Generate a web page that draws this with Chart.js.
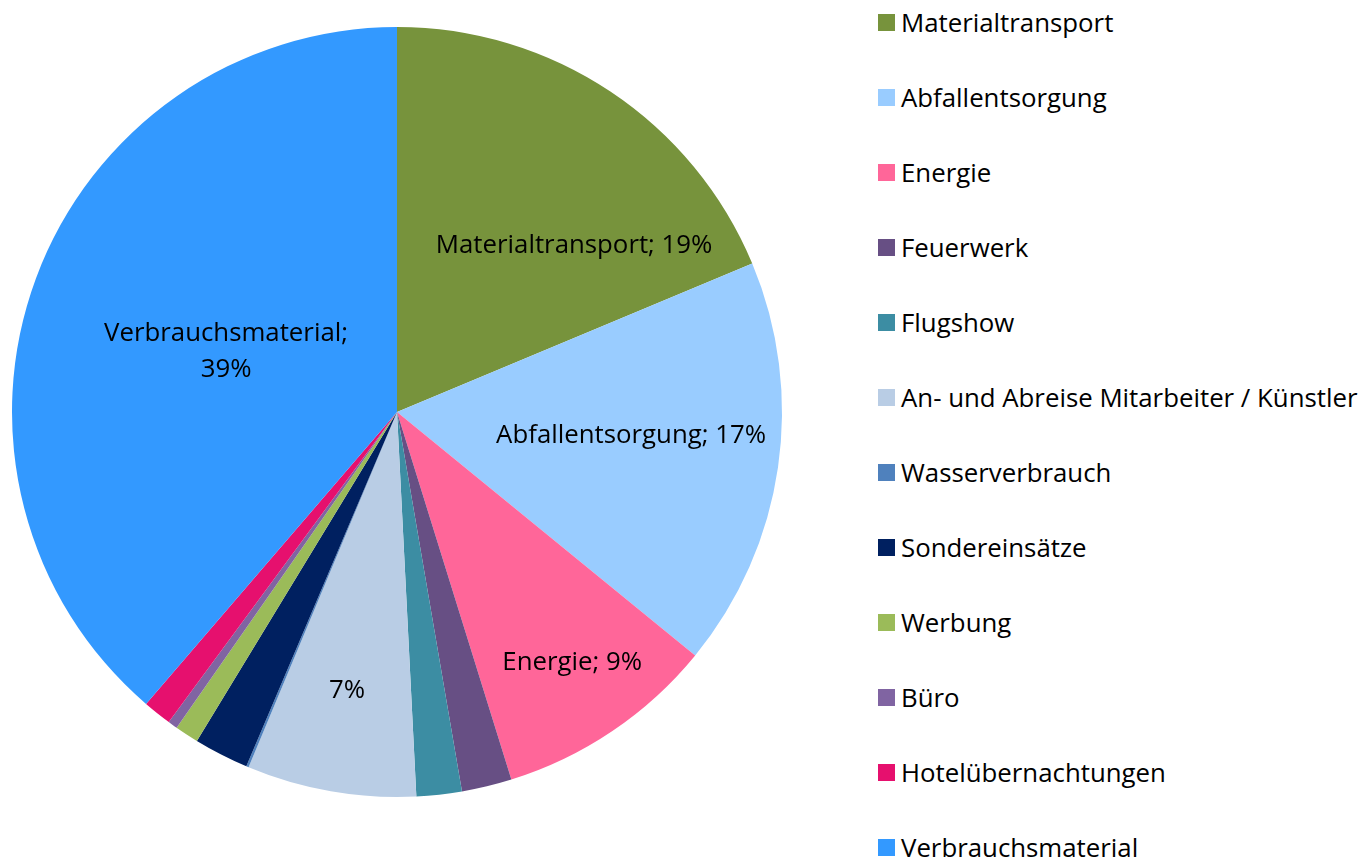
<!DOCTYPE html>
<html>
<head>
<meta charset="utf-8">
<script src="https://cdn.jsdelivr.net/npm/chart.js@4/dist/chart.umd.min.js"></script>
<style>
  body { margin: 0; background: #fff; width: 1362px; height: 858px; overflow: hidden; position: relative; font-family: "Open Sans", sans-serif; }
  #wrap { position: absolute; left: 0; top: 0; width: 794px; height: 858px; }
  #legende { position: absolute; left: 878px; top: 0; }
  .eintrag { position: absolute; left: 0; height: 30px; white-space: nowrap; display: flex; align-items: center; font-size: 25.8px; color: #000; }
  .kasten { width: 17px; height: 17px; margin-right: 6px; flex: none; }
</style>
</head>
<body>
<div id="wrap"><canvas id="torte"></canvas></div>
<div id="legende"></div>
<script>
// Kategorien
const kategorien = ["Materialtransport", "Abfallentsorgung", "Energie", "Feuerwerk", "Flugshow",
  "An- und Abreise Mitarbeiter / Künstler", "Wasserverbrauch", "Sondereinsätze", "Werbung",
  "Büro", "Hotelübernachtungen", "Verbrauchsmaterial"];
// Anteile in Prozent
const anteile = [18.7, 17.2, 9.3, 2.1, 1.9, 7.1, 0.1, 2.3, 1.0, 0.4, 1.2, 38.7];
// Farben
const farben = ["#77933C", "#99CCFF", "#FF6699", "#674F84", "#3C8DA3", "#B9CDE5",
  "#4F81BD", "#002060", "#9BBB59", "#8064A2", "#E6106E", "#3399FF"];
// Beschriftungen der Segmente (leer = keine)
const beschriftungen = ["Materialtransport; 19%", "Abfallentsorgung; 17%", "Energie; 9%", "", "",
  "7%", "", "", "", "", "", "Verbrauchsmaterial;\n39%"];

// Position der Beschriftung relativ zum Mittelpunkt (in Radius-Einheiten)
const labelOffsets = {
  0: [0.46, -0.431],
  1: [0.608, 0.062],
  2: [0.455, 0.652],
  5: [-0.13, 0.725],
  11: [-0.444, -0.156]
};

const beschriftungPlugin = {
  id: "beschriftung",
  afterDatasetsDraw(chart) {
    const ctx = chart.ctx;
    const meta = chart.getDatasetMeta(0);
    ctx.save();
    ctx.font = "25.8px 'Open Sans'";
    ctx.fillStyle = "#000";
    ctx.textAlign = "center";
    ctx.textBaseline = "middle";
    meta.data.forEach((arc, i) => {
      const text = beschriftungen[i];
      if (!text) return;
      const p = arc.getProps(["x", "y", "outerRadius"], true);
      const off = labelOffsets[i];
      const cx = p.x + off[0] * p.outerRadius;
      const cy = p.y + off[1] * p.outerRadius;
      const zeilen = text.split("\n");
      zeilen.forEach((z, k) => {
        ctx.fillText(z, cx, cy + (k - (zeilen.length - 1) / 2) * 36);
      });
    });
    ctx.restore();
  }
};

const ctx = document.getElementById("torte").getContext("2d");
const chart = new Chart(ctx, {
  type: "pie",
  data: {
    labels: kategorien,
    datasets: [{
      data: anteile,
      backgroundColor: farben,
      borderWidth: 0
    }]
  },
  options: {
    responsive: true,
    maintainAspectRatio: false,
    animation: false,
    layout: { padding: { top: 27, bottom: 61, left: 12, right: 12 } },
    plugins: {
      legend: { display: false },
      tooltip: { enabled: false }
    }
  },
  plugins: [beschriftungPlugin]
});

// Legende rechts
const legende = document.getElementById("legende");
kategorien.forEach((name, i) => {
  const el = document.createElement("div");
  el.className = "eintrag";
  el.style.top = (22 + 75 * i - 15) + "px";
  el.innerHTML = '<span class="kasten" style="background:' + farben[i] + '"></span><span>' + name + '</span>';
  legende.appendChild(el);
});
</script>
</body>
</html>
